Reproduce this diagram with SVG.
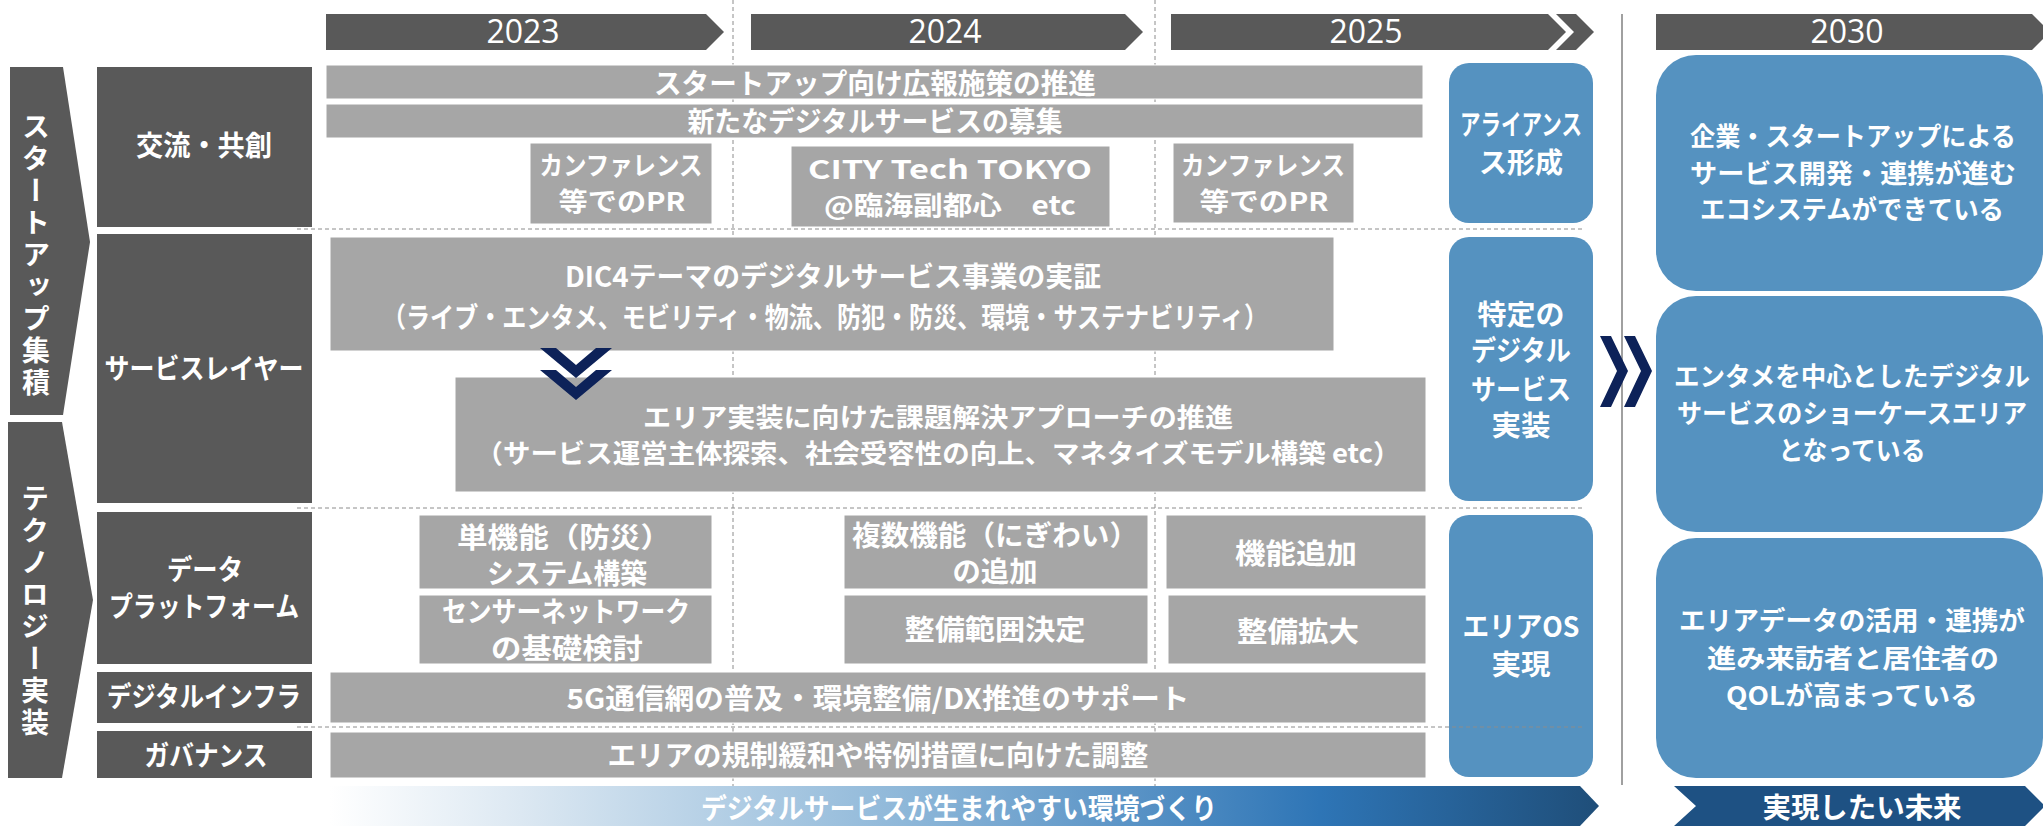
<svg xmlns="http://www.w3.org/2000/svg" width="2043" height="826" viewBox="0 0 2043 826">
<style>
.dk{fill:#595959}
.gr{fill:#a6a6a6;stroke:#ffffff;stroke-width:1}
.bl{fill:#5592c0}
.t{font-family:"Noto Sans CJK JP","Noto Sans",sans-serif;font-weight:700;font-size:28px;fill:#ffffff;text-anchor:middle}
.s{font-size:26px}
.ts{text-anchor:start}
.yr{font-family:"Open Sans","Liberation Sans",sans-serif;font-size:32px;fill:#ffffff;text-anchor:middle}
.vt{font-family:"Noto Sans CJK JP",sans-serif;font-weight:700;font-size:28px;fill:#ffffff;text-anchor:middle;writing-mode:vertical-rl;letter-spacing:4px}
.dash{stroke:#8c8c8c;stroke-width:1;stroke-dasharray:4 3;fill:none}
.nv{fill:#0d2259}
</style>
<defs>
<linearGradient id="gb" gradientUnits="userSpaceOnUse" x1="330" y1="0" x2="1599" y2="0">
<stop offset="0" stop-color="#ffffff"/>
<stop offset="0.15" stop-color="#dce8f2"/>
<stop offset="0.45" stop-color="#8fb8d9"/>
<stop offset="0.78" stop-color="#2e75b6"/>
<stop offset="1" stop-color="#1f4e79"/>
</linearGradient>
</defs>
<rect width="2043" height="826" fill="#ffffff"/>

<g id="grid">
<line class="dash" x1="733" y1="0" x2="733" y2="786"/>
<line class="dash" x1="1155" y1="0" x2="1155" y2="786"/>
<line x1="1622" y1="14" x2="1622" y2="785" stroke="#a0a0a0" stroke-width="2"/>
</g>

<g id="years">
<polygon class="dk" points="326,14 706,14 724,32 706,50 326,50"/>
<text class="yr" x="523" y="43">2023</text>
<polygon class="dk" points="751,14 1125,14 1143,32 1125,50 751,50"/>
<text class="yr" x="945" y="43">2024</text>
<polygon class="dk" points="1171,14 1548,14 1566,32 1548,50 1171,50"/>
<polygon class="dk" points="1556,14 1576,14 1594,32 1576,50 1556,50 1574,32"/>
<text class="yr" x="1366" y="43">2025</text>
<polygon class="dk" points="1656,14 2032,14 2050,32 2032,50 1656,50"/>
<text class="yr" x="1847" y="43">2030</text>
</g>

<g id="arrow-startup">
<polygon class="dk" points="10,67 63,67 90,242 63,415 10,415"/>
<text class="vt" x="36" y="256">スタートアップ集積</text>
</g>
<g id="arrow-tech">
<polygon class="dk" points="8,422 62,422 93,600 62,778 8,778"/>
<text class="vt" x="35" y="612">テクノロジー実装</text>
</g>

<g id="cat-koryu">
<rect class="dk" x="97" y="67" width="215" height="160"/>
<text class="t" x="204" y="156" textLength="136" lengthAdjust="spacingAndGlyphs">交流・共創</text>
</g>
<g id="cat-service">
<rect class="dk" x="97" y="234" width="215" height="269"/>
<text class="t" x="204" y="379" textLength="199" lengthAdjust="spacingAndGlyphs">サービスレイヤー</text>
</g>
<g id="cat-data">
<rect class="dk" x="97" y="512" width="215" height="152"/>
<text class="t" x="205" y="580" textLength="76" lengthAdjust="spacingAndGlyphs">データ</text>
<text class="t" x="204" y="617" textLength="190" lengthAdjust="spacingAndGlyphs">プラットフォーム</text>
</g>
<g id="cat-infra">
<rect class="dk" x="97" y="672" width="215" height="51"/>
<text class="t" x="204" y="707" textLength="194" lengthAdjust="spacingAndGlyphs">デジタルインフラ</text>
</g>
<g id="cat-gov">
<rect class="dk" x="97" y="731" width="215" height="47"/>
<text class="t" x="206" y="766" textLength="123" lengthAdjust="spacingAndGlyphs">ガバナンス</text>
</g>

<g id="bar-pr">
<rect class="gr" x="326" y="65" width="1097" height="34"/>
<text class="t" x="875" y="94" textLength="442" lengthAdjust="spacingAndGlyphs">スタートアップ向け広報施策の推進</text>
</g>
<g id="bar-boshu">
<rect class="gr" x="326" y="104" width="1097" height="34"/>
<text class="t" x="875" y="132" textLength="375" lengthAdjust="spacingAndGlyphs">新たなデジタルサービスの募集</text>
</g>
<g id="conf-2023">
<rect class="gr" x="530" y="143" width="182" height="81"/>
<text class="t s" x="621" y="175" textLength="163" lengthAdjust="spacingAndGlyphs">カンファレンス</text>
<text class="t s" x="622" y="211" textLength="127" lengthAdjust="spacingAndGlyphs">等でのPR</text>
</g>
<g id="citytech">
<rect class="gr" x="791" y="146" width="319" height="81"/>
<text class="t s" x="950" y="179" textLength="284" lengthAdjust="spacingAndGlyphs">CITY Tech TOKYO</text>
<text class="t s" x="950" y="215" textLength="252" lengthAdjust="spacingAndGlyphs">@臨海副都心　etc</text>
</g>
<g id="conf-2025">
<rect class="gr" x="1173" y="143" width="181" height="80"/>
<text class="t s" x="1263" y="175" textLength="164" lengthAdjust="spacingAndGlyphs">カンファレンス</text>
<text class="t s" x="1264" y="211" textLength="129" lengthAdjust="spacingAndGlyphs">等でのPR</text>
</g>

<g id="dic4">
<rect class="gr" x="330" y="237" width="1004" height="114"/>
<text class="t" x="833" y="287" textLength="536" lengthAdjust="spacingAndGlyphs">DIC4テーマのデジタルサービス事業の実証</text>
<text class="t" x="825" y="328" textLength="886" lengthAdjust="spacingAndGlyphs">（ライブ・エンタメ、モビリティ・物流、防犯・防災、環境・サステナビリティ）</text>
</g>
<g id="area-impl">
<rect class="gr" x="455" y="377" width="971" height="115"/>
<text class="t s" x="938" y="427" textLength="590" lengthAdjust="spacingAndGlyphs">エリア実装に向けた課題解決アプローチの推進</text>
<text class="t s" x="938" y="463" textLength="925" lengthAdjust="spacingAndGlyphs">（サービス運営主体探索、社会受容性の向上、マネタイズモデル構築 etc）</text>
</g>

<g id="tan-kino">
<rect class="gr" x="419" y="515" width="293" height="74"/>
<text class="t ts" x="457" y="548" textLength="214" lengthAdjust="spacingAndGlyphs">単機能（防災）</text>
<text class="t" x="567" y="584" textLength="160" lengthAdjust="spacingAndGlyphs">システム構築</text>
</g>
<g id="sensor">
<rect class="gr" x="419" y="595" width="293" height="69"/>
<text class="t" x="566" y="622" textLength="248" lengthAdjust="spacingAndGlyphs">センサーネットワーク</text>
<text class="t" x="567" y="659" textLength="152" lengthAdjust="spacingAndGlyphs">の基礎検討</text>
</g>
<g id="fukusu">
<rect class="gr" x="844" y="515" width="304" height="74"/>
<text class="t ts" x="852" y="546" textLength="286" lengthAdjust="spacingAndGlyphs">複数機能（にぎわい）</text>
<text class="t" x="995" y="582" textLength="85" lengthAdjust="spacingAndGlyphs">の追加</text>
</g>
<g id="seibi-hani">
<rect class="gr" x="844" y="595" width="304" height="69"/>
<text class="t" x="995" y="640" textLength="181" lengthAdjust="spacingAndGlyphs">整備範囲決定</text>
</g>
<g id="kino-tsuika">
<rect class="gr" x="1166" y="515" width="260" height="74"/>
<text class="t" x="1296" y="564" textLength="122" lengthAdjust="spacingAndGlyphs">機能追加</text>
</g>
<g id="seibi-kakudai">
<rect class="gr" x="1168" y="595" width="258" height="69"/>
<text class="t" x="1298" y="642" textLength="122" lengthAdjust="spacingAndGlyphs">整備拡大</text>
</g>
<g id="bar-5g">
<rect class="gr" x="330" y="672" width="1096" height="51"/>
<text class="t" x="878" y="709" textLength="623" lengthAdjust="spacingAndGlyphs">5G通信網の普及・環境整備/DX推進のサポート</text>
</g>
<g id="bar-kisei">
<rect class="gr" x="330" y="732" width="1096" height="46"/>
<text class="t" x="878" y="766" textLength="541" lengthAdjust="spacingAndGlyphs">エリアの規制緩和や特例措置に向けた調整</text>
</g>

<g id="blue-alliance">
<rect class="bl" x="1449" y="63" width="144" height="160" rx="20"/>
<text class="t" x="1521" y="135" textLength="122" lengthAdjust="spacingAndGlyphs">アライアンス</text>
<text class="t" x="1521" y="173" textLength="84" lengthAdjust="spacingAndGlyphs">ス形成</text>
</g>
<g id="blue-service">
<rect class="bl" x="1449" y="237" width="144" height="264" rx="20"/>
<text class="t" x="1521" y="325" textLength="87" lengthAdjust="spacingAndGlyphs">特定の</text>
<text class="t" x="1521" y="361" textLength="100" lengthAdjust="spacingAndGlyphs">デジタル</text>
<text class="t" x="1521" y="400" textLength="100" lengthAdjust="spacingAndGlyphs">サービス</text>
<text class="t" x="1521" y="436" textLength="59" lengthAdjust="spacingAndGlyphs">実装</text>
</g>
<g id="blue-areaos">
<rect class="bl" x="1449" y="515" width="144" height="262" rx="20"/>
<text class="t" x="1521" y="637" textLength="117" lengthAdjust="spacingAndGlyphs">エリアOS</text>
<text class="t" x="1521" y="675" textLength="59" lengthAdjust="spacingAndGlyphs">実現</text>
</g>

<g id="grid-h">
<line class="dash" x1="297" y1="229" x2="1584" y2="229"/>
<line class="dash" x1="297" y1="508" x2="1584" y2="508"/>
<line class="dash" x1="297" y1="727" x2="1584" y2="727"/>
</g>

<g id="future-1">
<rect class="bl" x="1656" y="55" width="387" height="236" rx="40"/>
<text class="t s" x="1853" y="146" textLength="326" lengthAdjust="spacingAndGlyphs">企業・スタートアップによる</text>
<text class="t s" x="1853" y="183" textLength="326" lengthAdjust="spacingAndGlyphs">サービス開発・連携が進む</text>
<text class="t s" x="1852" y="219" textLength="304" lengthAdjust="spacingAndGlyphs">エコシステムができている</text>
</g>
<g id="future-2">
<rect class="bl" x="1656" y="296" width="387" height="236" rx="40"/>
<text class="t s" x="1852" y="386" textLength="356" lengthAdjust="spacingAndGlyphs">エンタメを中心としたデジタル</text>
<text class="t s" x="1852" y="423" textLength="350" lengthAdjust="spacingAndGlyphs">サービスのショーケースエリア</text>
<text class="t s" x="1852" y="460" textLength="147" lengthAdjust="spacingAndGlyphs">となっている</text>
</g>
<g id="future-3">
<rect class="bl" x="1656" y="538" width="387" height="240" rx="40"/>
<text class="t s" x="1852" y="630" textLength="346" lengthAdjust="spacingAndGlyphs">エリアデータの活用・連携が</text>
<text class="t s" x="1853" y="668" textLength="292" lengthAdjust="spacingAndGlyphs">進み来訪者と居住者の</text>
<text class="t s" x="1852" y="705" textLength="252" lengthAdjust="spacingAndGlyphs">QOLが高まっている</text>
</g>

<g id="bottom-env">
<polygon fill="url(#gb)" points="330,786 1580,786 1599,806 1580,826 330,826"/>
<text class="t" x="959" y="819" textLength="516" lengthAdjust="spacingAndGlyphs">デジタルサービスが生まれやすい環境づくり</text>
</g>
<g id="bottom-future">
<polygon fill="#1e5183" points="1674,786 2025,786 2045,806 2025,826 1674,826 1696,806"/>
<text class="t" x="1862" y="818" textLength="199" lengthAdjust="spacingAndGlyphs">実現したい未来</text>
</g>

<g id="connectors">
<polygon class="nv" points="540,348 556,348 576,365 596,348 612,348 576,378"/>
<polygon class="nv" points="540,370 556,370 576,387 596,370 612,370 576,400"/>
<polygon class="nv" points="1600,336 1611,336 1628,371 1611,407 1600,407 1617,371"/>
<polygon class="nv" points="1624,336 1635,336 1652,371 1635,407 1624,407 1641,371"/>
</g>
</svg>
